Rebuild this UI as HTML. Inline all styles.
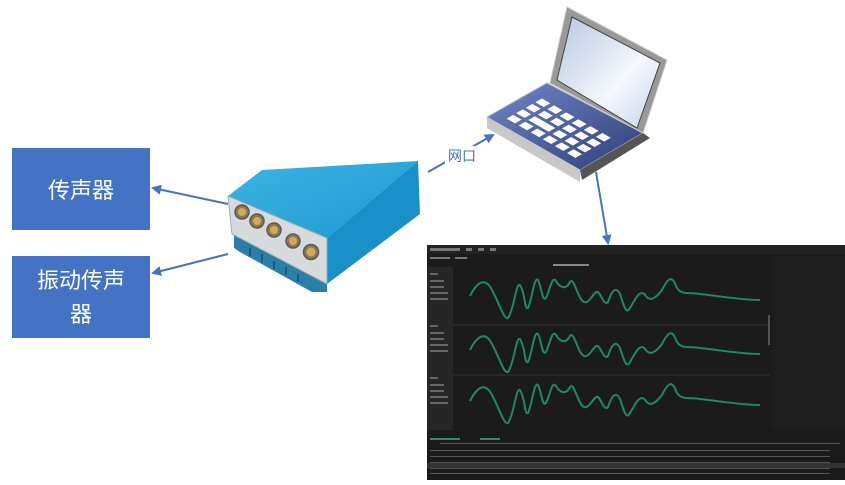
<!DOCTYPE html>
<html><head><meta charset="utf-8"><style>
html,body{margin:0;padding:0;background:#fff;width:845px;height:485px;overflow:hidden}
svg{display:block}
text{font-family:"Liberation Sans","Noto Sans CJK SC",sans-serif}
</style></head><body>
<svg width="845" height="485" viewBox="0 0 845 485" xmlns="http://www.w3.org/2000/svg">
<defs>
<marker id="ar" markerWidth="10" markerHeight="10" refX="8" refY="5" orient="auto" markerUnits="userSpaceOnUse"><path d="M0,0 L10,5 L0,10 z" fill="#4472c4"/></marker>
<linearGradient id="scr" x1="0" y1="0" x2="1" y2="1"><stop offset="0" stop-color="#b8c6e0"/><stop offset="0.6" stop-color="#f4f7fc"/><stop offset="1" stop-color="#c8d4ea"/></linearGradient>
<linearGradient id="kb" x1="0" y1="0" x2="1" y2="1"><stop offset="0" stop-color="#6f86c8"/><stop offset="1" stop-color="#2f3f78"/></linearGradient>
<linearGradient id="top" x1="0" y1="0" x2="1" y2="1"><stop offset="0" stop-color="#3cb4e4"/><stop offset="1" stop-color="#1f98d0"/></linearGradient>
</defs>
<rect x="12" y="148" width="138" height="82" fill="#4472c4"/>
<text x="81" y="198" font-size="22" fill="#fff" text-anchor="middle">传声器</text>
<rect x="12" y="256" width="138" height="82" fill="#4472c4"/>
<text x="81" y="288" font-size="22" fill="#fff" text-anchor="middle">振动传声</text>
<text x="81" y="322" font-size="22" fill="#fff" text-anchor="middle">器</text>
<line x1="228" y1="204" x2="153" y2="188" stroke="#4472c4" stroke-width="2" marker-end="url(#ar)"/>
<line x1="228" y1="254" x2="153" y2="273" stroke="#4472c4" stroke-width="2" marker-end="url(#ar)"/>
<line x1="428" y1="172" x2="493" y2="135" stroke="#4472c4" stroke-width="2" marker-end="url(#ar)"/>
<rect x="445" y="146" width="34" height="18" fill="#fff"/>
<text x="462" y="161" font-size="14" fill="#4472c4" text-anchor="middle">网口</text>
<line x1="596" y1="172" x2="608" y2="243" stroke="#4472c4" stroke-width="2" marker-end="url(#ar)"/>
<!-- device -->
<polygon points="234,234 327,284 327,292 312,292 240,252 234,248" fill="#2a7fa8"/>
<g stroke="#1a4f70" stroke-width="1.5"><line x1="250" y1="248" x2="250" y2="256"/><line x1="262" y1="254" x2="262" y2="262"/><line x1="274" y1="261" x2="274" y2="269"/><line x1="286" y1="267" x2="286" y2="275"/><line x1="298" y1="274" x2="298" y2="282"/></g>
<polygon points="228,196 262,170 418,161 327,238" fill="url(#top)"/>
<polygon points="327,238 418,161 420,214 327,284" fill="#1a90c8"/>
<polygon points="228,196 327,238 327,284 232,234" fill="#d6dadd" stroke="#9aa" stroke-width="1"/>
<g fill="#8a7a50" stroke="#5a5a5a" stroke-width="1.5">
<circle cx="242" cy="212" r="7"/><circle cx="257" cy="221" r="7"/><circle cx="274" cy="230" r="7"/><circle cx="293" cy="241" r="7"/><circle cx="311" cy="252" r="7.5"/></g>
<g fill="#d4a85a"><circle cx="242" cy="212" r="4"/><circle cx="257" cy="221" r="4"/><circle cx="274" cy="230" r="4"/><circle cx="293" cy="241" r="4"/><circle cx="311" cy="252" r="4.5"/></g>
<!-- laptop -->
<polygon points="487,117 547,83 643,133 580,170" fill="url(#kb)" stroke="#bbb" stroke-width="1"/>
<polygon points="487,117 580,170 580,182 487,128" fill="#c8c8c8"/>
<polygon points="580,170 643,133 650,138 582,180" fill="#555"/>
<polygon points="567,7 667,60 643,133 550,83" fill="#999" stroke="#ccc"/>
<polygon points="572,17 660,63 637,128 557,80" fill="url(#scr)" stroke="#444"/>
<g transform="matrix(0.93,0.53,0.6,-0.34,487,117)" fill="#fff">
<rect x="12" y="14" width="9" height="11"/><rect x="25" y="14" width="9" height="11"/><rect x="38" y="14" width="9" height="11"/><rect x="51" y="14" width="9" height="11"/><rect x="64" y="14" width="9" height="11"/><rect x="77" y="14" width="9" height="11"/>
<rect x="12" y="30" width="9" height="11"/><rect x="25" y="30" width="22" height="11"/><rect x="51" y="30" width="9" height="11"/><rect x="64" y="30" width="9" height="11"/><rect x="77" y="30" width="9" height="11"/>
<rect x="12" y="46" width="9" height="11"/><rect x="25" y="46" width="9" height="11"/><rect x="38" y="46" width="9" height="11"/><rect x="51" y="46" width="9" height="11"/><rect x="64" y="46" width="9" height="11"/><rect x="77" y="46" width="9" height="11"/>
<rect x="12" y="62" width="9" height="11"/><rect x="25" y="62" width="9" height="11"/><rect x="38" y="62" width="9" height="11"/><rect x="51" y="62" width="9" height="11"/><rect x="64" y="62" width="9" height="11"/><rect x="77" y="62" width="9" height="11"/>
</g>
<!-- screenshot -->
<rect x="427" y="245" width="418" height="235" fill="#1b1b1b"/>
<rect x="427" y="245" width="418" height="9" fill="#222"/>
<g fill="#777"><rect x="430" y="248" width="30" height="3"/><rect x="466" y="248" width="6" height="3"/><rect x="478" y="248" width="6" height="3"/><rect x="490" y="248" width="6" height="3"/><rect x="430" y="257" width="20" height="2"/><rect x="455" y="257" width="12" height="2"/><rect x="776" y="258" width="14" height="3"/></g>
<rect x="553" y="264" width="36" height="2" fill="#888"/>
<rect x="427" y="267" width="26" height="163" fill="#262626"/>
<g fill="#666"><rect x="430" y="273" width="8" height="2"/><rect x="430" y="280" width="14" height="2"/><rect x="430" y="286" width="14" height="2"/><rect x="430" y="292" width="18" height="2"/><rect x="430" y="298" width="18" height="2"/>
<rect x="430" y="325" width="8" height="2"/><rect x="430" y="332" width="14" height="2"/><rect x="430" y="338" width="14" height="2"/><rect x="430" y="344" width="18" height="2"/><rect x="430" y="350" width="18" height="2"/>
<rect x="430" y="377" width="8" height="2"/><rect x="430" y="384" width="14" height="2"/><rect x="430" y="390" width="14" height="2"/><rect x="430" y="396" width="18" height="2"/><rect x="430" y="402" width="18" height="2"/></g>
<rect x="773" y="257" width="72" height="172" fill="#1e1e1e"/>
<rect x="427" y="430" width="418" height="50" fill="#1a1a1a"/>
<g fill="#3a8a5a"><rect x="430" y="438" width="30" height="2"/><rect x="480" y="438" width="20" height="2"/></g>
<g fill="#555"><rect x="440" y="443" width="400" height="1"/><rect x="430" y="450" width="400" height="1"/><rect x="430" y="456" width="400" height="1"/><rect x="430" y="462" width="400" height="1"/><rect x="430" y="468" width="400" height="1"/><rect x="430" y="473" width="400" height="1"/></g>
<rect x="427" y="463" width="418" height="5" fill="#333"/>
<g stroke="#333" stroke-width="1"><line x1="453" y1="325" x2="770" y2="325"/><line x1="453" y1="375" x2="770" y2="375"/></g>
<g fill="none" stroke="#1f8a60" stroke-width="2">
<path d="M470,296 C478,280 486,278 492,290 C500,305 504,320 508,318 C514,310 516,282 520,285 C526,295 524,310 528,308 C532,300 534,276 538,280 C542,288 542,302 546,298 C550,290 552,275 556,281 C560,288 566,290 570,282 C574,276 578,300 584,302 C590,304 594,290 598,292 C602,296 604,306 608,302 C612,290 616,286 620,294 C624,306 626,315 630,308 C636,298 640,288 646,296 C650,302 656,298 662,290 C668,278 672,275 676,286 C680,296 690,292 700,294 C720,296 740,300 760,300"/>
<path d="M470,350 C478,334 486,332 492,344 C500,359 504,374 508,372 C514,364 516,336 520,339 C526,349 524,364 528,362 C532,354 534,330 538,334 C542,342 542,356 546,352 C550,344 552,329 556,335 C560,342 566,344 570,336 C574,330 578,354 584,356 C590,358 594,344 598,346 C602,350 604,360 608,356 C612,344 616,340 620,348 C624,360 626,369 630,362 C636,352 640,342 646,350 C650,356 656,352 662,344 C668,332 672,329 676,340 C680,350 690,346 700,348 C720,350 740,354 760,354"/>
<path d="M470,401 C478,385 486,383 492,395 C500,410 504,425 508,423 C514,415 516,387 520,390 C526,400 524,415 528,413 C532,405 534,381 538,385 C542,393 542,407 546,403 C550,395 552,380 556,386 C560,393 566,395 570,387 C574,381 578,405 584,407 C590,409 594,395 598,397 C602,401 604,411 608,407 C612,395 616,391 620,399 C624,411 626,420 630,413 C636,403 640,393 646,401 C650,407 656,403 662,395 C668,383 672,380 676,391 C680,401 690,397 700,399 C720,401 740,405 760,405"/>
</g>
<rect x="768" y="315" width="2" height="30" fill="#555"/>
</svg>
</body></html>
